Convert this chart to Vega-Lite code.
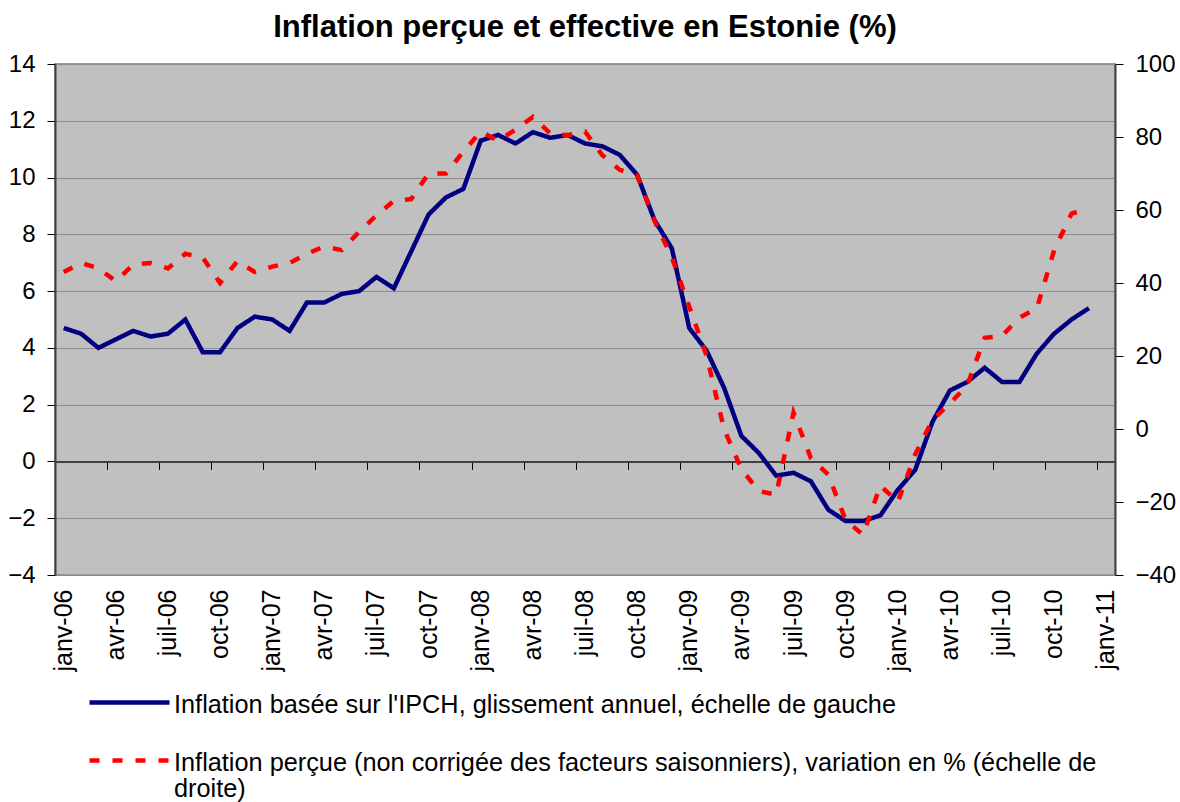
{
  "$schema": "https://vega.github.io/schema/vega-lite/v6.json",
  "width": 1060,
  "height": 511,
  "autosize": "none",
  "padding": {"left": 55, "top": 64, "right": 65, "bottom": 227},
  "background": "white",
  "title": {
    "text": "Inflation perçue et effective en Estonie (%)",
    "font": "Liberation Sans",
    "fontSize": 31,
    "fontWeight": "bold",
    "color": "black",
    "anchor": "middle",
    "offset": 8
  },
  "config": {
    "view": {"fill": "#c0c0c0", "stroke": "#999999", "strokeWidth": 2},
    "font": "Liberation Sans",
    "axis": {
      "labelFont": "Liberation Sans",
      "labelColor": "black",
      "labelFontSize": 24,
      "title": null,
      "tickColor": "black",
      "tickWidth": 1,
      "tickSize": 8,
      "domainColor": "#404040",
      "domainWidth": 2
    }
  },
  "data": {
    "values": [
      {"mois": "janv-06", "ipch": 4.7, "percue": 43},
      {"mois": "févr-06", "ipch": 4.5, "percue": 45.5},
      {"mois": "mars-06", "ipch": 4.0, "percue": 44},
      {"mois": "avr-06", "ipch": 4.3, "percue": 40.5},
      {"mois": "mai-06", "ipch": 4.6, "percue": 45},
      {"mois": "juin-06", "ipch": 4.4, "percue": 45.5},
      {"mois": "juil-06", "ipch": 4.5, "percue": 44},
      {"mois": "août-06", "ipch": 5.0, "percue": 48},
      {"mois": "sept-06", "ipch": 3.85, "percue": 47},
      {"mois": "oct-06", "ipch": 3.85, "percue": 40},
      {"mois": "nov-06", "ipch": 4.7, "percue": 46},
      {"mois": "déc-06", "ipch": 5.1, "percue": 43},
      {"mois": "janv-07", "ipch": 5.0, "percue": 44.5},
      {"mois": "févr-07", "ipch": 4.6, "percue": 45.5},
      {"mois": "mars-07", "ipch": 5.6, "percue": 48},
      {"mois": "avr-07", "ipch": 5.6, "percue": 50},
      {"mois": "mai-07", "ipch": 5.9, "percue": 49},
      {"mois": "juin-07", "ipch": 6.0, "percue": 54},
      {"mois": "juil-07", "ipch": 6.5, "percue": 58.5},
      {"mois": "août-07", "ipch": 6.1, "percue": 62.5},
      {"mois": "sept-07", "ipch": 7.4, "percue": 63},
      {"mois": "oct-07", "ipch": 8.7, "percue": 70},
      {"mois": "nov-07", "ipch": 9.3, "percue": 70},
      {"mois": "déc-07", "ipch": 9.6, "percue": 76},
      {"mois": "janv-08", "ipch": 11.3, "percue": 81.5},
      {"mois": "févr-08", "ipch": 11.5, "percue": 79},
      {"mois": "mars-08", "ipch": 11.2, "percue": 82},
      {"mois": "avr-08", "ipch": 11.6, "percue": 85.5},
      {"mois": "mai-08", "ipch": 11.4, "percue": 81},
      {"mois": "juin-08", "ipch": 11.5, "percue": 80.5},
      {"mois": "juil-08", "ipch": 11.2, "percue": 81.5},
      {"mois": "août-08", "ipch": 11.1, "percue": 75},
      {"mois": "sept-08", "ipch": 10.8, "percue": 71},
      {"mois": "oct-08", "ipch": 10.1, "percue": 69.5},
      {"mois": "nov-08", "ipch": 8.5, "percue": 57},
      {"mois": "déc-08", "ipch": 7.5, "percue": 47},
      {"mois": "janv-09", "ipch": 4.7, "percue": 33.5},
      {"mois": "févr-09", "ipch": 3.9, "percue": 20},
      {"mois": "mars-09", "ipch": 2.6, "percue": 0},
      {"mois": "avr-09", "ipch": 0.9, "percue": -11},
      {"mois": "mai-09", "ipch": 0.3, "percue": -17},
      {"mois": "juin-09", "ipch": -0.5, "percue": -18},
      {"mois": "juil-09", "ipch": -0.4, "percue": 4.5},
      {"mois": "août-09", "ipch": -0.7, "percue": -8},
      {"mois": "sept-09", "ipch": -1.7, "percue": -12.5},
      {"mois": "oct-09", "ipch": -2.1, "percue": -25},
      {"mois": "nov-09", "ipch": -2.1, "percue": -29},
      {"mois": "déc-09", "ipch": -1.9, "percue": -15.5},
      {"mois": "janv-10", "ipch": -1.0, "percue": -20},
      {"mois": "févr-10", "ipch": -0.3, "percue": -7},
      {"mois": "mars-10", "ipch": 1.4, "percue": 2.5},
      {"mois": "avr-10", "ipch": 2.5, "percue": 7},
      {"mois": "mai-10", "ipch": 2.8, "percue": 12},
      {"mois": "juin-10", "ipch": 3.3, "percue": 25},
      {"mois": "juil-10", "ipch": 2.8, "percue": 25.5},
      {"mois": "août-10", "ipch": 2.8, "percue": 30.5},
      {"mois": "sept-10", "ipch": 3.8, "percue": 33},
      {"mois": "oct-10", "ipch": 4.5, "percue": 49},
      {"mois": "nov-10", "ipch": 5.0, "percue": 59},
      {"mois": "déc-10", "ipch": 5.4, "percue": 60.5}
    ]
  },
  "layer": [
    {
      "transform": [{"fold": ["ipch"], "as": ["serie", "valeur"]}],
      "mark": {"type": "line", "strokeWidth": 4.5},
      "encoding": {
        "x": {
          "field": "mois",
          "type": "ordinal",
          "bandPosition": 0.5,
          "scale": {
            "type": "band",
            "paddingInner": 0,
            "paddingOuter": 0,
            "domain": ["janv-06","févr-06","mars-06","avr-06","mai-06","juin-06","juil-06","août-06","sept-06","oct-06","nov-06","déc-06","janv-07","févr-07","mars-07","avr-07","mai-07","juin-07","juil-07","août-07","sept-07","oct-07","nov-07","déc-07","janv-08","févr-08","mars-08","avr-08","mai-08","juin-08","juil-08","août-08","sept-08","oct-08","nov-08","déc-08","janv-09","févr-09","mars-09","avr-09","mai-09","juin-09","juil-09","août-09","sept-09","oct-09","nov-09","déc-09","janv-10","févr-10","mars-10","avr-10","mai-10","juin-10","juil-10","août-10","sept-10","oct-10","nov-10","déc-10","janv-11"]
          },
          "axis": {
            "orient": "bottom",
            "offset": -113.6,
            "values": ["janv-06","avr-06","juil-06","oct-06","janv-07","avr-07","juil-07","oct-07","janv-08","avr-08","juil-08","oct-08","janv-09","avr-09","juil-09","oct-09","janv-10","avr-10","juil-10","oct-10","janv-11"],
            "labels": false,
            "ticks": true,
            "domain": true,
            "bandPosition": 0,
            "grid": false
          }
        },
        "y": {
          "field": "valeur",
          "type": "quantitative",
          "scale": {"domain": [-4, 14], "nice": false, "zero": false},
          "axis": {
            "orient": "left",
            "values": [-4, -2, 0, 2, 4, 6, 8, 10, 12, 14],
            "grid": true,
            "gridColor": "#8c8c8c",
            "gridWidth": 1,
            "labelPadding": 12
          }
        },
        "order": {"value": null},
        "color": {
          "field": "serie",
          "type": "nominal",
          "scale": {"domain": ["ipch", "percue"], "range": ["#000080", "#ff0000"]},
          "legend": {
            "orient": "none",
            "legendX": 32,
            "legendY": 596,
            "direction": "vertical",
            "title": null,
            "symbolType": "stroke",
            "symbolSize": 6400,
            "symbolStrokeWidth": 4.5,
            "labelFont": "Liberation Sans",
            "labelFontSize": 25.3,
            "labelColor": "black",
            "labelLimit": 1200,
            "labelOffset": 2,
            "labelBaseline": "top",
            "rowPadding": -5,
            "labelExpr": "datum.label == 'ipch' ? \"Inflation basée sur l'IPCH, glissement annuel, échelle de gauche\" : ['Inflation perçue (non corrigée des facteurs saisonniers), variation en % (échelle de', 'droite)']",
            "encode": {"labels": {"update": {"dy": {"value": -10}, "lineHeight": {"value": 26}}}}
          }
        },
        "strokeDash": {
          "field": "serie",
          "type": "nominal",
          "scale": {"domain": ["ipch", "percue"], "range": [[1, 0], [10, 13]]},
          "legend": {
            "orient": "none",
            "legendX": 32,
            "legendY": 596,
            "direction": "vertical",
            "title": null,
            "symbolType": "stroke",
            "symbolSize": 6400,
            "symbolStrokeWidth": 4.5,
            "labelFont": "Liberation Sans",
            "labelFontSize": 25.3,
            "labelColor": "black",
            "labelLimit": 1200,
            "labelOffset": 2,
            "labelBaseline": "top",
            "rowPadding": -5,
            "labelExpr": "datum.label == 'ipch' ? \"Inflation basée sur l'IPCH, glissement annuel, échelle de gauche\" : ['Inflation perçue (non corrigée des facteurs saisonniers), variation en % (échelle de', 'droite)']",
            "encode": {"labels": {"update": {"dy": {"value": -10}, "lineHeight": {"value": 26}}}}
          }
        }
      }
    },
    {
      "transform": [{"fold": ["percue"], "as": ["serie", "valeur"]}],
      "mark": {"type": "line", "strokeWidth": 4.5},
      "encoding": {
        "x": {
          "field": "mois",
          "type": "ordinal",
          "bandPosition": 0.5,
          "axis": {
            "orient": "bottom",
            "values": ["janv-06","avr-06","juil-06","oct-06","janv-07","avr-07","juil-07","oct-07","janv-08","avr-08","juil-08","oct-08","janv-09","avr-09","juil-09","oct-09","janv-10","avr-10","juil-10","oct-10","janv-11"],
            "labels": true,
            "labelAngle": 270,
            "labelPadding": 14,
            "labelFontSize": 25,
            "ticks": false,
            "domain": false,
            "grid": false
          }
        },
        "y": {
          "field": "valeur",
          "type": "quantitative",
          "scale": {"domain": [-40, 100], "nice": false, "zero": false},
          "axis": {
            "orient": "right",
            "values": [-40, -20, 0, 20, 40, 60, 80, 100],
            "grid": false,
            "labelPadding": 12
          }
        },
        "order": {"value": null},
        "color": {"field": "serie", "type": "nominal"},
        "strokeDash": {"field": "serie", "type": "nominal"}
      }
    }
  ],
  "resolve": {
    "scale": {"y": "independent"},
    "axis": {"x": "independent", "y": "independent"}
  }
}
